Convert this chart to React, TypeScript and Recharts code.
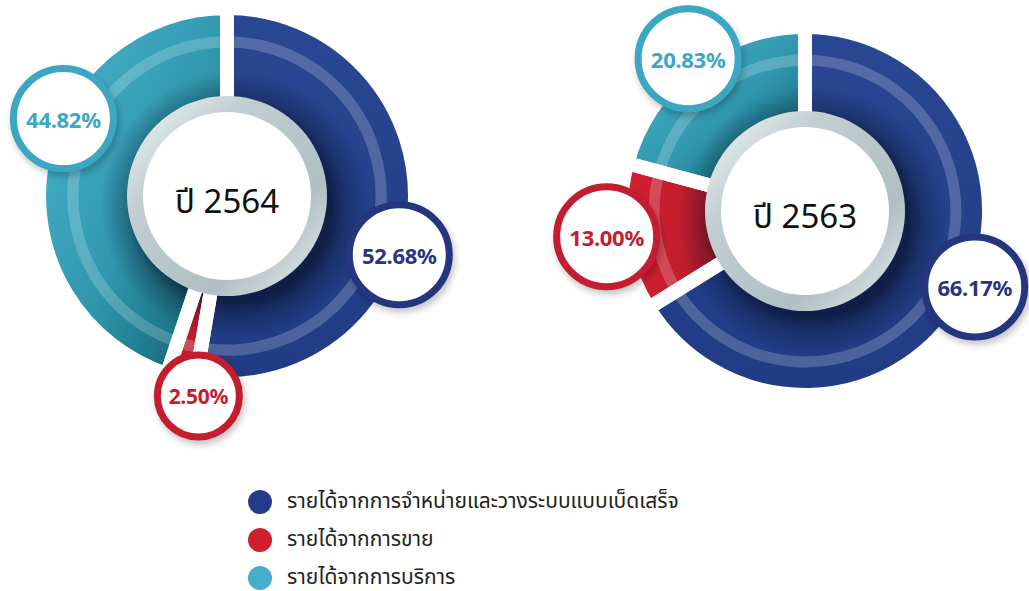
import { PieChart, Pie, Cell } from 'recharts'

const categories = [
  'รายได้จากการจำหน่ายและวางระบบแบบเบ็ดเสร็จ',
  'รายได้จากการขาย',
  'รายได้จากการบริการ',
]
const years = ['ปี 2564', 'ปี 2563']
const share2564 = [52.68, 2.5, 44.82]
const share2563 = [66.17, 13.0, 20.83]

const dotColors = ['#243c8a', '#d0202f', '#45afcb']
const textColors = ['#25367f', '#c41d30', '#3ba7c2']

const W = 1029
const H = 591
const RAD = Math.PI / 180
const FONT = "'Noto Sans', 'Noto Sans Thai', Loma, sans-serif"

// where each donut sits and where its bubbles go
const layouts = [
  { cx: 227, cy: 196, r: 188, shift: [-14, 6, -16], labelR: [182, 202, 181] },
  { cx: 805, cy: 211, r: 184, shift: [5, -1, 0], labelR: [186, 200, 192] },
]

const series = [share2564, share2563]

function rows(values: number[]) {
  return categories.map((name, i) => ({ name, value: values[i] }))
}

function bubbleLabel(chart: number) {
  return (p: any) => {
    const L = layouts[chart]
    const a = (p.midAngle + L.shift[p.index]) * RAD
    const r = L.labelR[p.index]
    const x = p.cx + r * Math.cos(a)
    const y = p.cy - r * Math.sin(a)
    const small = p.value < 5
    const rr = small ? 41 : 50
    const c = textColors[p.index]
    return (
      <g key={`b${chart}-${p.index}`}>
        <circle cx={x + 2} cy={y + 4} r={rr + 4} fill="rgba(0,0,0,0.22)" filter="url(#soft)" />
        <circle cx={x} cy={y} r={rr} fill="#fff" stroke={c} strokeWidth={7} />
        <text
          x={x}
          y={y}
          textAnchor="middle"
          dominantBaseline="central"
          fontFamily={FONT}
          fontSize={small ? 21 : 22}
          fontWeight={700}
          letterSpacing={-0.3}
          fill={c}
        >
          {p.value.toFixed(2)}%
        </text>
      </g>
    )
  }
}

function yearLabel(p: any) {
  return (
    <text
      key={`y-${p.name}`}
      x={p.cx}
      y={p.cy + 4}
      textAnchor="middle"
      dominantBaseline="central"
      fontFamily={FONT}
      fontSize={33}
      fill="#111"
    >
      {p.name}
    </text>
  )
}

function Legend() {
  return (
    <div style={{ position: 'absolute', left: 248, top: 483, fontFamily: FONT }}>
      {categories.map((c, i) => (
        <div key={c} style={{ display: 'flex', alignItems: 'center', height: 38 }}>
          <span
            style={{
              width: 24,
              height: 24,
              borderRadius: 12,
              background: dotColors[i],
              display: 'inline-block',
              marginRight: 15,
            }}
          />
          <span style={{ fontSize: 21, lineHeight: 1, color: '#231f20', marginTop: -3 }}>{c}</span>
        </div>
      ))}
    </div>
  )
}

export default function App() {
  return (
    <div style={{ position: 'absolute', left: 0, top: 0, width: W, height: H, background: '#fff' }}>
      <PieChart width={W} height={H} margin={{ top: 0, right: 0, bottom: 0, left: 0 }}>
        <defs>
          <filter id="soft" x="-30%" y="-30%" width="160%" height="160%">
            <feGaussianBlur stdDeviation="3" />
          </filter>
          <linearGradient id="blueG" x1="0" y1="0" x2="0" y2="1">
            <stop offset="0%" stopColor="#2a4793" />
            <stop offset="100%" stopColor="#213b84" />
          </linearGradient>
          <linearGradient id="redG" x1="0" y1="0" x2="1" y2="0">
            <stop offset="0%" stopColor="#d8202f" />
            <stop offset="100%" stopColor="#a91b2c" />
          </linearGradient>
          <linearGradient id="cyanG" x1="0" y1="0" x2="1" y2="1">
            <stop offset="0%" stopColor="#4cb8d0" />
            <stop offset="55%" stopColor="#2f96ad" />
            <stop offset="100%" stopColor="#0e5866" />
          </linearGradient>
          <linearGradient id="ringG" x1="0" y1="0" x2="1" y2="1">
            <stop offset="0%" stopColor="#f3f6f7" />
            <stop offset="30%" stopColor="#c2cfd2" />
            <stop offset="70%" stopColor="#afbfc3" />
            <stop offset="100%" stopColor="#eaeff0" />
          </linearGradient>
          {layouts.map((L, i) => (
            <radialGradient
              key={i}
              id={`shade${i}`}
              gradientUnits="userSpaceOnUse"
              cx={L.cx + 8}
              cy={L.cy + 10}
              r={L.r}
            >
              <stop offset={`${(96 / L.r) * 100}%`} stopColor="#020a1c" stopOpacity={0.6} />
              <stop offset={`${(110 / L.r) * 100}%`} stopColor="#020a1c" stopOpacity={0.28} />
              <stop offset={`${(134 / L.r) * 100}%`} stopColor="#020a1c" stopOpacity={0} />
            </radialGradient>
          ))}
        </defs>

        {layouts.map((L, i) => {
          const data = rows(series[i])
          const fills = ['url(#blueG)', 'url(#redG)', 'url(#cyanG)']
          return [
            <Pie
              key={`main${i}`}
              data={data}
              dataKey="value"
              nameKey="name"
              cx={L.cx}
              cy={L.cy}
              innerRadius={80}
              outerRadius={L.r}
              startAngle={90}
              endAngle={-270}
              stroke="none"
              isAnimationActive={false}
            >
              {data.map((d, k) => (
                <Cell key={d.name} fill={fills[k]} />
              ))}
            </Pie>,
            <Pie
              key={`band${i}`}
              data={data}
              dataKey="value"
              cx={L.cx}
              cy={L.cy}
              innerRadius={L.r * 0.79}
              outerRadius={L.r * 0.85}
              startAngle={90}
              endAngle={-270}
              fill="rgba(255,255,255,0.2)"
              stroke="none"
              isAnimationActive={false}
            />,
            <Pie
              key={`shade${i}`}
              data={[{ name: years[i], value: 1 }]}
              dataKey="value"
              cx={L.cx}
              cy={L.cy}
              innerRadius={80}
              outerRadius={L.r}
              fill={`url(#shade${i})`}
              stroke="none"
              isAnimationActive={false}
            />,
            <Pie
              key={`gap${i}`}
              data={data}
              dataKey="value"
              cx={L.cx}
              cy={L.cy}
              innerRadius={60}
              outerRadius={L.r}
              startAngle={90}
              endAngle={-270}
              fill="none"
              stroke="#fff"
              strokeWidth={14}
              isAnimationActive={false}
            />,
            <Pie
              key={`ring${i}`}
              data={[{ name: years[i], value: 1 }]}
              dataKey="value"
              cx={L.cx}
              cy={L.cy}
              innerRadius={83}
              outerRadius={100}
              fill="url(#ringG)"
              stroke="none"
              isAnimationActive={false}
            />,
            <Pie
              key={`disc${i}`}
              data={[{ name: years[i], value: 1 }]}
              dataKey="value"
              nameKey="name"
              cx={L.cx}
              cy={L.cy}
              innerRadius={0}
              outerRadius={84}
              fill="#fff"
              stroke="none"
              label={yearLabel}
              labelLine={false}
              isAnimationActive={false}
            />,
            <Pie
              key={`lab${i}`}
              data={data}
              dataKey="value"
              cx={L.cx}
              cy={L.cy}
              innerRadius={0}
              outerRadius={1}
              startAngle={90}
              endAngle={-270}
              fill="none"
              stroke="none"
              label={bubbleLabel(i)}
              labelLine={false}
              isAnimationActive={false}
            />,
          ]
        })}
      </PieChart>
      <Legend />
    </div>
  )
}
